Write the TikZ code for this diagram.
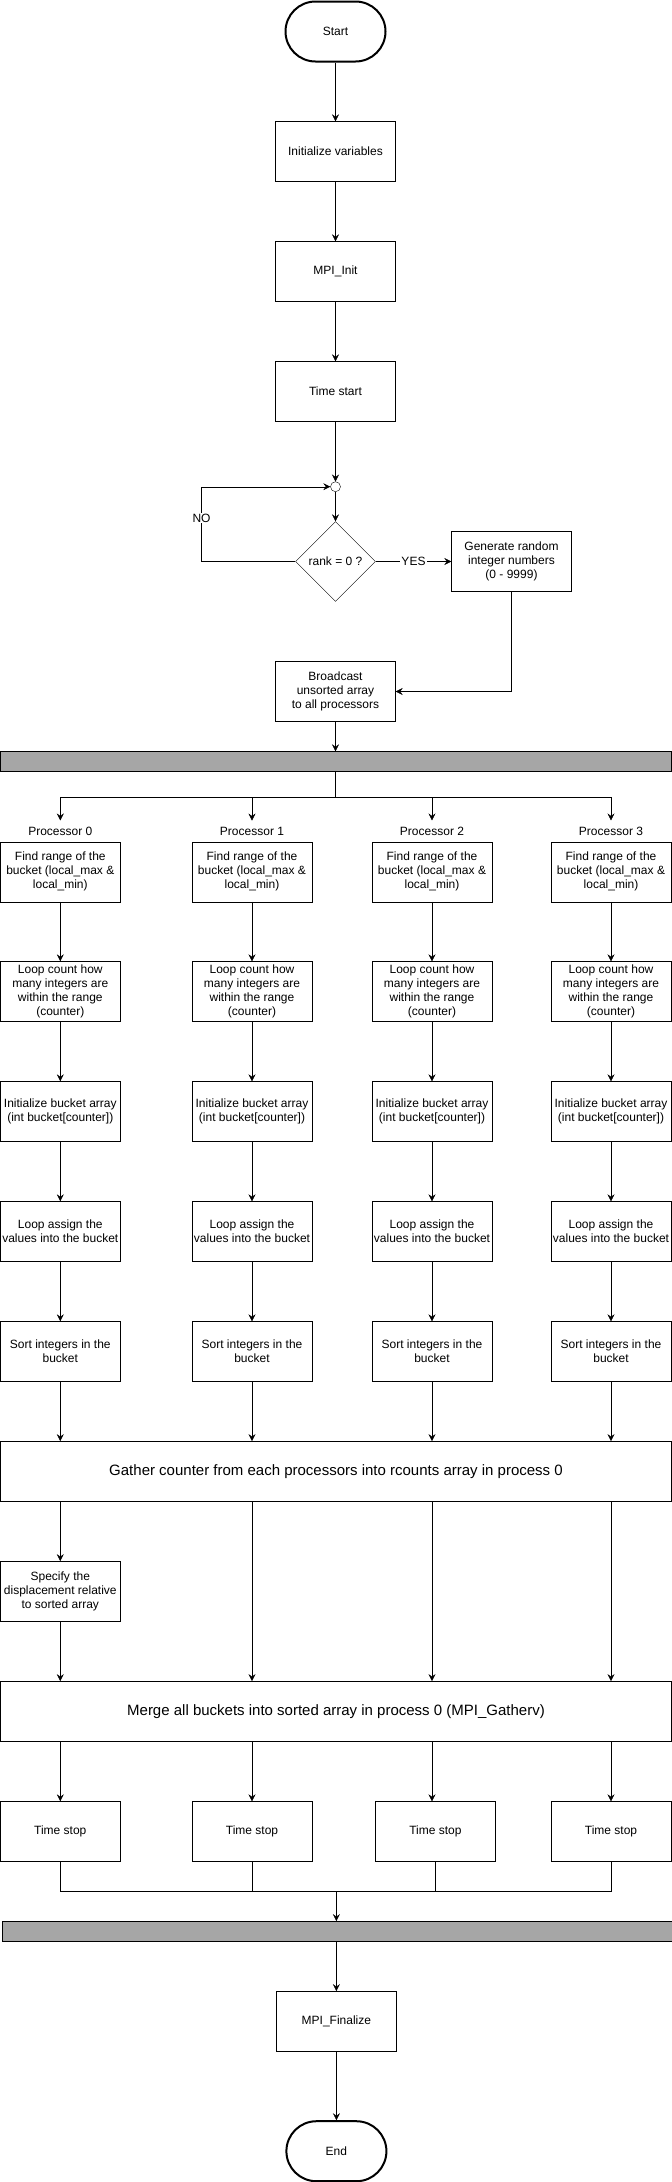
\documentclass[tikz,border=0pt]{standalone}
\usepackage{fontspec}
\setmainfont{Liberation Sans}
\usetikzlibrary{positioning,shapes,arrows.meta}
\definecolor{bargray}{HTML}{A6A6A6}

\begin{document}
\begin{tikzpicture}[x=1pt,y=-1pt,
  >={Stealth[length=7pt,width=7pt,inset=2.5pt]},
  every node/.style={font=\fontsize{12pt}{14pt}\selectfont},
  box/.style={draw, rectangle, minimum width=120pt, minimum height=60pt, inner sep=0pt, align=center},
  widebox/.style={draw, rectangle, minimum width=671pt, minimum height=60pt, inner sep=0pt, font=\fontsize{15pt}{18pt}\selectfont},
  terminal/.style={draw, line width=2pt, rounded corners=30pt, minimum width=100pt, minimum height=60pt, inner sep=0pt},
  decision/.style={draw, diamond, minimum width=80pt, minimum height=80pt, inner sep=0pt},
  syncbar/.style={draw, fill=bargray, minimum height=20pt, inner sep=0pt},
  proclabel/.style={inner sep=0pt, outer sep=7pt}]
  \useasboundingbox (0,0) rectangle (672,2182);

  %  Define nodes
  \node[terminal] (start) at (335.5,31.5) {Start};
  \node[box] (initvars) at (335.5,151.5) {Initialize variables};
  \node[box] (mpiinit) at (335.5,271.5) {MPI\_Init};
  \node[box] (timestart) at (335.5,391.5) {Time start};
  \node[draw, circle, minimum size=10pt, inner sep=0pt] (junction) at (335.5,486.7) {};
  \node[decision] (rankzero) at (335.5,561.5) {rank = 0 ?};
  \node[box] (generate) at (511.5,561.5) {Generate random\\integer numbers\\(0 - 9999)};
  \node[box] (broadcast) at (335.5,691.5) {Broadcast\\unsorted array\\to all processors};
  \node[syncbar, minimum width=671pt] (topbar) at (336,761.5) {};
  \coordinate (branch) at (335.5,796.7);

  \node[proclabel] (proc0) at (60.3,831.7) {Processor 0};
  \node[proclabel] (proc1) at (252,831.7) {Processor 1};
  \node[proclabel] (proc2) at (432,831.7) {Processor 2};
  \node[proclabel] (proc3) at (611,831.7) {Processor 3};

  \node[box] (find0) at (60.3,871.7) {Find range of the\\bucket (local\_max \&\\local\_min)};
  \node[box] (find1) at (252,871.7) {Find range of the\\bucket (local\_max \&\\local\_min)};
  \node[box] (find2) at (432,871.7) {Find range of the\\bucket (local\_max \&\\local\_min)};
  \node[box] (find3) at (611,871.7) {Find range of the\\bucket (local\_max \&\\local\_min)};

  \node[box] (count0) at (60.3,991.5) {Loop count how\\many integers are\\within the range\\(counter)};
  \node[box] (count1) at (252,991.5) {Loop count how\\many integers are\\within the range\\(counter)};
  \node[box] (count2) at (432,991.5) {Loop count how\\many integers are\\within the range\\(counter)};
  \node[box] (count3) at (611,991.5) {Loop count how\\many integers are\\within the range\\(counter)};

  \node[box] (initbucket0) at (60.3,1111.5) {Initialize bucket array\\(int bucket[counter])};
  \node[box] (initbucket1) at (252,1111.5) {Initialize bucket array\\(int bucket[counter])};
  \node[box] (initbucket2) at (432,1111.5) {Initialize bucket array\\(int bucket[counter])};
  \node[box] (initbucket3) at (611,1111.5) {Initialize bucket array\\(int bucket[counter])};

  \node[box] (assign0) at (60.3,1231.5) {Loop assign the\\values into the bucket};
  \node[box] (assign1) at (252,1231.5) {Loop assign the\\values into the bucket};
  \node[box] (assign2) at (432,1231.5) {Loop assign the\\values into the bucket};
  \node[box] (assign3) at (611,1231.5) {Loop assign the\\values into the bucket};

  \node[box] (sort0) at (60.3,1351.5) {Sort integers in the\\bucket};
  \node[box] (sort1) at (252,1351.5) {Sort integers in the\\bucket};
  \node[box] (sort2) at (432,1351.5) {Sort integers in the\\bucket};
  \node[box] (sort3) at (611,1351.5) {Sort integers in the\\bucket};

  \node[widebox] (gather) at (336,1471.3) {Gather counter from each processors into rcounts array in process 0};
  \node[box] (specify) at (60.3,1591.3) {Specify the\\displacement relative\\to sorted array};
  \node[widebox] (merge) at (336,1711.3) {Merge all buckets into sorted array in process 0 (MPI\_Gatherv)};

  \node[box] (timestop0) at (60.3,1831.5) {Time stop};
  \node[box] (timestop1) at (252,1831.5) {Time stop};
  \node[box] (timestop2) at (435.4,1831.5) {Time stop};
  \node[box] (timestop3) at (611,1831.5) {Time stop};
  \coordinate (join) at (336.4,1891.3);

  \node[syncbar, minimum width=670pt] (bottombar) at (337,1931.3) {};
  \node[box] (finalize) at (336.4,2021.3) {MPI\_Finalize};
  \node[terminal] (end) at (336.4,2151.2) {End};

  % Connect the nodes
  \draw[->] (start) -- (initvars);
  \draw[->] (initvars) -- (mpiinit);
  \draw[->] (mpiinit) -- (timestart);
  \draw[->] (timestart) -- (junction);
  \draw[->] (junction) -- (rankzero);
  \draw[->] (rankzero.west) -- ++(-93.8,0) |- (junction.west) node[pos=0.29, fill=white, inner sep=1pt] {NO};
  \draw[->] (rankzero.east) -- (generate.west) node[midway, fill=white, inner sep=1pt] {YES};
  \draw[->] (generate.south) |- (broadcast.east);
  \draw[->] (broadcast) -- (topbar.north -| broadcast);

  \draw (topbar.south -| branch) -- (branch);
  \draw[->] (branch) -| (proc0.north);
  \draw[->] (branch) -| (proc1.north);
  \draw[->] (branch) -| (proc2.north);
  \draw[->] (branch) -| (proc3.north);

  \draw[->] (find0) -- (count0);
  \draw[->] (find1) -- (count1);
  \draw[->] (find2) -- (count2);
  \draw[->] (find3) -- (count3);
  \draw[->] (count0) -- (initbucket0);
  \draw[->] (count1) -- (initbucket1);
  \draw[->] (count2) -- (initbucket2);
  \draw[->] (count3) -- (initbucket3);
  \draw[->] (initbucket0) -- (assign0);
  \draw[->] (initbucket1) -- (assign1);
  \draw[->] (initbucket2) -- (assign2);
  \draw[->] (initbucket3) -- (assign3);
  \draw[->] (assign0) -- (sort0);
  \draw[->] (assign1) -- (sort1);
  \draw[->] (assign2) -- (sort2);
  \draw[->] (assign3) -- (sort3);

  \draw[->] (sort0) -- (sort0 |- gather.north);
  \draw[->] (sort1) -- (sort1 |- gather.north);
  \draw[->] (sort2) -- (sort2 |- gather.north);
  \draw[->] (sort3) -- (sort3 |- gather.north);

  \draw[->] (gather.south -| specify) -- (specify);
  \draw[->] (specify) -- (specify |- merge.north);
  \draw[->] (gather.south -| sort1) -- (merge.north -| sort1);
  \draw[->] (gather.south -| sort2) -- (merge.north -| sort2);
  \draw[->] (gather.south -| sort3) -- (merge.north -| sort3);

  \draw[->] (merge.south -| sort0) -- (timestop0);
  \draw[->] (merge.south -| sort1) -- (timestop1);
  \draw[->] (merge.south -| sort2) -- (timestop2.north -| sort2);
  \draw[->] (merge.south -| sort3) -- (timestop3);

  \draw (timestop0) |- (join);
  \draw (timestop1) |- (join);
  \draw (timestop2) |- (join);
  \draw (timestop3) |- (join);
  \draw[->] (join) -- (bottombar.north -| join);
  \draw[->] (bottombar.south -| finalize) -- (finalize);
  \draw[->] (finalize) -- (end);

\end{tikzpicture}
\end{document}
